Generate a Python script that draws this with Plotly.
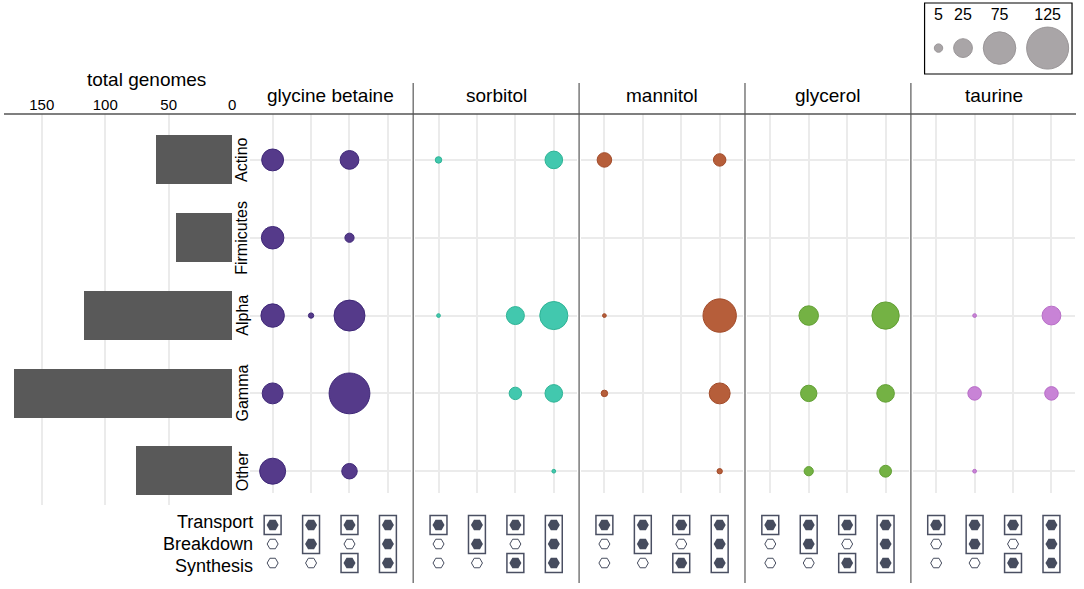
import numpy as np
import plotly.graph_objects as go

W, H = 1084, 589

taxa = ["Actino", "Firmicutes", "Alpha", "Gamma", "Other"]
total_genomes = [60, 44, 117, 172, 76]

compounds = ["glycine betaine", "sorbitol", "mannitol", "glycerol", "taurine"]
combos = ["T", "T+B", "T+S", "T+B+S"]
roles = ["Transport", "Breakdown", "Synthesis"]
# roles present in each combo column (Transport, Breakdown, Synthesis)
combo_roles = [[1, 0, 0], [1, 1, 0], [1, 0, 1], [1, 1, 1]]

# genomes per taxon (rows) and combo (columns)
glycine_betaine = [[34, 0, 25, 0], [36, 0, 6, 0], [39, 2, 68, 0], [31, 0, 118, 0], [48, 0, 17, 0]]
sorbitol = [[3, 0, 0, 22], [0, 0, 0, 0], [1, 0, 23, 56], [0, 0, 11, 22], [0, 0, 0, 1]]
mannitol = [[15, 0, 0, 11], [0, 0, 0, 0], [1, 0, 0, 79], [3, 0, 0, 31], [0, 0, 0, 2]]
glycerol = [[0, 0, 0, 0], [0, 0, 0, 0], [0, 27, 0, 53], [0, 19, 0, 22], [0, 6, 0, 10]]
taurine = [[0, 0, 0, 0], [0, 0, 0, 0], [0, 1, 0, 25], [0, 13, 0, 13], [0, 1, 0, 0]]
counts = [glycine_betaine, sorbitol, mannitol, glycerol, taurine]

fill_colors = ["#553a8a", "#42c8ae", "#b65e3a", "#74b244", "#c883d6"]
line_colors = ["#3f2878", "#2fb496", "#a24a28", "#62a034", "#b86ec8"]

legend_counts = [5, 25, 75, 125]

FONT = "Arial, Liberation Sans, sans-serif"
GRID = "#ebebeb"
HEX = "#464c5e"
sizeref = 2 * max(legend_counts) / 42 ** 2


def fx(p):
    return p / W


def fy(p):
    return 1 - p / H


fig = go.Figure()

# left bar chart
fig.add_trace(go.Bar(x=total_genomes, y=taxa, orientation="h", width=0.63,
                     marker=dict(color="#595959", line=dict(width=0)),
                     xaxis="x", yaxis="y", hoverinfo="x+y"))

layout = dict(
    width=W, height=H, margin=dict(l=0, r=0, t=0, b=0),
    paper_bgcolor="white", plot_bgcolor="white", showlegend=False,
    font=dict(family=FONT, color="black"),
    bargap=0,
    xaxis=dict(domain=[fx(5), fx(233)], range=[179, 0], side="top", anchor="y",
               tickvals=[0, 50, 100, 150], showgrid=True, gridcolor=GRID, gridwidth=2,
               zeroline=False, ticks="", tickfont=dict(size=15), showline=False),
    yaxis=dict(domain=[fy(505), fy(114)], type="category", categoryarray=taxa,
               range=[4.44, -0.59], anchor="x", showgrid=False, showticklabels=False,
               zeroline=False, ticks=""),
    yaxis2=dict(domain=[fy(493), fy(114)], type="category", categoryarray=taxa,
                range=[4.28, -0.59], anchor="x2", showgrid=True, gridcolor=GRID,
                gridwidth=2, showticklabels=False, zeroline=False, ticks=""),
    yaxis3=dict(domain=[fy(583), fy(505)], type="category", categoryarray=roles,
                range=[3.05, -1.05], anchor="x7", showgrid=False, showticklabels=False,
                zeroline=False, ticks=""),
)

shapes = []
annotations = []

pitch, pwidth, start = 166.5, 162, 250.5
for k, name in enumerate(compounds):
    left = start + pitch * k
    dom = [fx(left), fx(left + pwidth)]
    xa, xm = k + 2, k + 7
    layout["xaxis%d" % xa] = dict(domain=dom, type="category", categoryarray=combos,
                                  range=[-0.6, 3.6], anchor="y2", showgrid=True,
                                  gridcolor=GRID, gridwidth=2, showticklabels=False,
                                  zeroline=False, ticks="")
    layout["xaxis%d" % xm] = dict(domain=dom, type="category", categoryarray=combos,
                                  range=[-0.6, 3.6], anchor="y3", showgrid=False,
                                  showticklabels=False, zeroline=False, ticks="")

    # bubbles
    bx, by, bs = [], [], []
    for r, row in enumerate(counts[k]):
        for c, v in enumerate(row):
            if v > 0:
                bx.append(combos[c])
                by.append(taxa[r])
                bs.append(v)
    fig.add_trace(go.Scatter(x=bx, y=by, mode="markers", xaxis="x%d" % xa, yaxis="y2",
                             marker=dict(size=bs, sizemode="area", sizeref=sizeref,
                                         color=fill_colors[k], opacity=1,
                                         line=dict(color=line_colors[k], width=1)),
                             hovertext=[name] * len(bs)))

    # role matrix
    fxs, fys, oxs, oys = [], [], [], []
    for c, pres in enumerate(combo_roles):
        for r, p in enumerate(pres):
            if p:
                fxs.append(combos[c]); fys.append(roles[r])
            else:
                oxs.append(combos[c]); oys.append(roles[r])
        # boxes around contiguous present roles
        r = 0
        while r < len(pres):
            if pres[r]:
                r0 = r
                while r + 1 < len(pres) and pres[r + 1]:
                    r += 1
                shapes.append(dict(type="rect", xref="x%d" % xm, yref="y3",
                                   x0=c - 0.22, x1=c + 0.22, y0=r0 - 0.5, y1=r + 0.5,
                                   line=dict(color="#4a4f62", width=1.5)))
            r += 1
    fig.add_trace(go.Scatter(x=fxs, y=fys, mode="markers", xaxis="x%d" % xm, yaxis="y3",
                             marker=dict(symbol="hexagon2", size=12, color=HEX,
                                         line=dict(width=0))))
    fig.add_trace(go.Scatter(x=oxs, y=oys, mode="markers", xaxis="x%d" % xm, yaxis="y3",
                             marker=dict(symbol="hexagon2-open", size=11, color=HEX,
                                         line=dict(width=1))))

    annotations.append(dict(text=name, x=fx(left + pwidth / 2), y=fy(96), xref="paper",
                            yref="paper", showarrow=False, xanchor="center",
                            yanchor="middle", font=dict(size=19)))
    if k > 0:
        sx = left - (pitch - pwidth) / 2
        shapes.append(dict(type="line", xref="paper", yref="paper", x0=fx(sx), x1=fx(sx),
                           y0=fy(83), y1=fy(583), line=dict(color="#7a7a7a", width=1.5)))

# top rule
shapes.append(dict(type="line", xref="paper", yref="paper", x0=fx(4), x1=fx(1080),
                   y0=fy(114), y1=fy(114), line=dict(color="#555555", width=1.5)))

annotations.append(dict(text="total genomes", x=fx(147), y=fy(79), xref="paper",
                        yref="paper", showarrow=False, xanchor="center", yanchor="middle",
                        font=dict(size=19)))
for i, t in enumerate(taxa):
    annotations.append(dict(text=t, x=fx(243), y=i, xref="paper", yref="y2",
                            showarrow=False, textangle=-90, xanchor="center",
                            yanchor="middle", font=dict(size=16)))
# role labels are spaced a little wider than the hexagon rows
for i, t in enumerate(roles):
    annotations.append(dict(text=t, x=fx(256), y=1 + (i - 1) * 1.18, xref="paper",
                            yref="y3", showarrow=False, xanchor="right",
                            yanchor="middle", font=dict(size=18)))

# size legend
diam = [np.sqrt(2 * v / sizeref) for v in legend_counts]
lx = [14.0]
for i in range(1, len(legend_counts)):
    lx.append(lx[-1] + diam[i - 1] / 2 + 11 + diam[i] / 2)
layout["xaxis12"] = dict(domain=[fx(928), fx(1076)], range=[0, 148], anchor="y4",
                         visible=False)
layout["yaxis4"] = dict(domain=[fy(74), fy(3)], range=[-0.81, 1.41], anchor="x12",
                        visible=False)
fig.add_trace(go.Scatter(x=lx, y=[0] * len(lx), mode="markers", xaxis="x12", yaxis="y4",
                         marker=dict(size=legend_counts, sizemode="area", sizeref=sizeref,
                                     color="#a9a5a7", opacity=1,
                                     line=dict(color="#9a9698", width=1))))
fig.add_trace(go.Scatter(x=lx, y=[1] * len(lx), mode="text", xaxis="x12", yaxis="y4",
                         text=[str(v) for v in legend_counts],
                         textfont=dict(size=16, color="black")))
shapes.append(dict(type="rect", xref="paper", yref="paper", x0=fx(928), x1=fx(1076),
                   y0=fy(74), y1=fy(3), line=dict(color="black", width=1.2)))

layout["shapes"] = shapes
layout["annotations"] = annotations
fig.update_layout(**layout)

# page body has a default margin; drop it so the figure sits at the top-left corner
fig.write_html("out.html", config={"displayModeBar": False},
               post_script="document.body.style.margin='0';")
